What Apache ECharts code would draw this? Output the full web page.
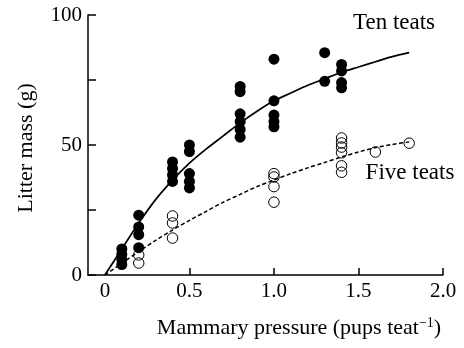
<!DOCTYPE html>
<html>
<head>
<meta charset="utf-8">
<script src="https://cdn.jsdelivr.net/npm/echarts@6/dist/echarts.min.js"></script>
<style>
  html, body { margin: 0; padding: 0; background: #fff; }
  #chart { width: 464px; height: 348px; }
</style>
</head>
<body>
<div id="chart"></div>
<script>
// Mammary pressure groups (pups per teat) and litter masses (g)
const tenX = [0.1, 0.2, 0.4, 0.5, 0.8, 1.0, 1.3, 1.4];
const tenY = [
  [10, 8, 6, 4],
  [23, 18.5, 15.5, 10.5],
  [43.5, 41, 38.5, 36],
  [50, 47.5, 39, 36, 33.5],
  [72.5, 70.5, 62, 59, 56, 53],
  [83, 67, 61.5, 59, 57],
  [85.5, 74.5],
  [81, 78.5, 74, 72]
];
const fiveX = [0.2, 0.4, 1.0, 1.4, 1.6, 1.8];
const fiveY = [
  [7.7, 4.6],
  [22.7, 20, 14.2],
  [39, 37.7, 34, 28],
  [52.7, 50.8, 49.2, 47, 42, 39.5],
  [47.3],
  [50.7]
];
// Fitted curves, read at 0.1 steps
const fitX = [0, 0.1, 0.2, 0.3, 0.4, 0.5, 0.6, 0.7, 0.8, 0.9, 1.0, 1.1, 1.2, 1.3, 1.4, 1.5, 1.6, 1.7, 1.8];
const tenFit = [0, 10, 20, 29, 36.5, 43, 48.5, 53.5, 58.5, 63, 67, 70, 73, 75.5, 78, 80, 82, 84, 85.5];
const fiveFit = [0, 4.5, 9, 13.3, 17.3, 21, 24.5, 28, 31, 34, 36.5, 39, 41.2, 43.3, 45.4, 47.3, 49, 50.2, 51.2];
const xTicks = [0, 0.5, 1.0, 1.5, 2.0];
const xTickText = ['0', '0.5', '1.0', '1.5', '2.0'];
const yLabels = [0, 50, 100];

const FONT = '"Liberation Serif", "Times New Roman", serif';

function pairs(xs, groups) {
  const out = [];
  xs.forEach((x, i) => groups[i].forEach(y => out.push([x, y])));
  return out;
}

const chart = echarts.init(document.getElementById('chart'), null, { renderer: 'canvas' });
chart.setOption({
  animation: false,
  backgroundColor: '#fff',
  grid: { left: 88, right: 21, top: 15, bottom: 73 },
  xAxis: {
    type: 'value',
    min: -0.1,
    max: 2.0,
    splitLine: { show: false },
    axisLine: { show: true, onZero: false, lineStyle: { color: '#000', width: 1.5 } },
    axisTick: { show: true, inside: true, length: 7, customValues: xTicks.slice(1), lineStyle: { color: '#000', width: 1.5 } },
    axisLabel: {
      customValues: xTicks,
      margin: 6,
      color: '#000',
      fontFamily: FONT,
      fontSize: 21,
      formatter: v => xTickText[xTicks.findIndex(t => Math.abs(t - v) < 1e-6)]
    }
  },
  yAxis: {
    type: 'value',
    min: 0,
    max: 100,
    interval: 25,
    splitLine: { show: false },
    axisLine: { show: true, onZero: false, lineStyle: { color: '#000', width: 1.5 } },
    axisTick: { show: true, inside: true, length: 8, lineStyle: { color: '#000', width: 1.5 } },
    axisLabel: {
      margin: 6,
      color: '#000',
      fontFamily: FONT,
      fontSize: 21,
      formatter: v => (yLabels.indexOf(v) >= 0 ? String(v) : '')
    }
  },
  graphic: [
    {
      type: 'text',
      x: 26, y: 148, rotation: Math.PI / 2,
      style: {
        text: 'Litter mass (g)',
        font: '22px ' + FONT,
        fill: '#000',
        align: 'center',
        verticalAlign: 'middle'
      }
    },
    {
      type: 'text',
      x: 299, y: 328,
      style: {
        text: '{a|Mammary pressure (pups teat}{s|−1}{a|)}',
        fill: '#000',
        align: 'center',
        verticalAlign: 'middle',
        rich: {
          a: { fontFamily: FONT, fontSize: 22, lineHeight: 24, fill: '#000' },
          s: { fontFamily: FONT, fontSize: 14, lineHeight: 14, verticalAlign: 'top', fill: '#000' }
        }
      }
    },
    {
      type: 'text',
      x: 394, y: 23,
      style: { text: 'Ten teats', font: '23px ' + FONT, fill: '#000', align: 'center', verticalAlign: 'middle' }
    },
    {
      type: 'text',
      x: 410, y: 173,
      style: { text: 'Five teats', font: '23px ' + FONT, fill: '#000', align: 'center', verticalAlign: 'middle' }
    }
  ],
  series: [
    {
      type: 'scatter',
      data: pairs(tenX, tenY),
      symbol: 'circle',
      symbolSize: 11,
      itemStyle: { color: '#000', opacity: 1 },
      z: 3
    },
    {
      type: 'scatter',
      data: pairs(fiveX, fiveY),
      symbol: 'circle',
      symbolSize: 10.5,
      itemStyle: { color: 'rgba(0,0,0,0)', borderColor: '#000', borderWidth: 1, opacity: 1 },
      z: 3
    },
    {
      type: 'line',
      data: fitX.map((x, i) => [x, tenFit[i]]),
      smooth: 0.3,
      showSymbol: false,
      lineStyle: { color: '#000', width: 1.7 },
      z: 4
    },
    {
      type: 'line',
      data: fitX.map((x, i) => [x, fiveFit[i]]),
      smooth: 0.3,
      showSymbol: false,
      lineStyle: { color: '#000', width: 1.5, type: [4, 2.5] },
      z: 4
    }
  ]
});
</script>
</body>
</html>
